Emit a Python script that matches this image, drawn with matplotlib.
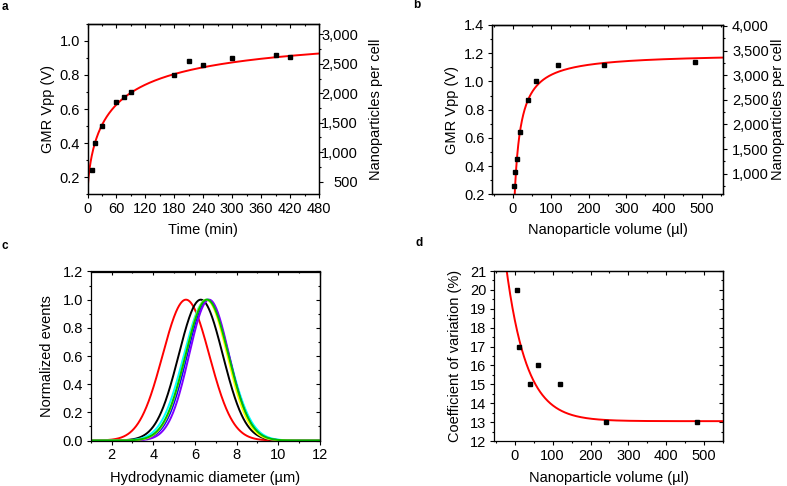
import numpy as np
import matplotlib
matplotlib.use("Agg")
import matplotlib.pyplot as plt
from matplotlib.ticker import MultipleLocator, StrMethodFormatter

plt.rcParams['font.family'] = ['Liberation Sans', 'DejaVu Sans']
plt.rcParams['font.size'] = 10.5
plt.rcParams['axes.linewidth'] = 0.9

# panel a: uptake over time
time_min = [10, 15, 30, 60, 75, 90, 180, 210, 240, 300, 390, 420]
gmr_time = [0.24, 0.40, 0.50, 0.64, 0.67, 0.70, 0.80, 0.88, 0.86, 0.90, 0.92, 0.905]
# fit params (Hill-type): base, amplitude, K, n
fit_a = (0.1, 1.0, 51.7, 0.7)

# panel b: uptake vs nanoparticle volume
vol_b = [2, 5, 10, 20, 40, 60, 120, 240, 480]
gmr_vol = [0.26, 0.36, 0.45, 0.64, 0.87, 1.00, 1.115, 1.115, 1.14]
# fit params (hyperbolic): amplitude, K, x0
fit_b = (1.2, 14.5, 2.0)

# panel c: size distributions (mean, sigma, colour)
dist_mean = [5.57, 6.28, 6.55, 6.62, 6.68, 6.55, 6.58]
dist_sigma = [1.12, 1.06, 1.08, 1.0, 0.96, 1.0, 1.03]
dist_color = ['#ff0000', '#000000', '#00ffff', '#0000ff', '#7f00ff', '#ffff00', '#00c000']

# panel d: coefficient of variation
vol_d = [5, 10, 40, 60, 120, 240, 480]
cv = [20, 17, 15, 16, 15, 13, 13]
# fit params (exponential decay): offset, amplitude, tau
fit_d = (13.05, 5.35, 54.0)

W, H = 787, 486
fig = plt.figure(figsize=(W / 100, H / 100), dpi=100)


def rect(l, r, t, b):
    return [l / W, 1 - b / H, (r - l) / W, (b - t) / H]


def ticklen(a):
    a.tick_params(which='major', length=3, width=0.8)
    a.tick_params(which='minor', length=1.6, width=0.8)


def style(ax, box, xlab_y, ylab_x, right_in=True):
    l, r, t, b = box
    ax.tick_params(which='both', direction='out', top=False, right=False, pad=2.5)
    ticklen(ax)
    top = ax.secondary_xaxis('top')
    top.xaxis.set_major_locator(ax.xaxis.get_major_locator())
    top.xaxis.set_minor_locator(ax.xaxis.get_minor_locator())
    top.tick_params(which='both', direction='in', labeltop=False)
    ticklen(top)
    if right_in:
        rt = ax.secondary_yaxis('right')
        rt.yaxis.set_major_locator(ax.yaxis.get_major_locator())
        rt.yaxis.set_minor_locator(ax.yaxis.get_minor_locator())
        rt.tick_params(which='both', direction='in', labelright=False)
        ticklen(rt)
    ax.xaxis.label.set_va('center')
    ax.yaxis.label.set_va('center')
    ax.xaxis.set_label_coords(0.5, (b - xlab_y) / (b - t))
    ax.yaxis.set_label_coords((ylab_x - l) / (r - l), 0.5)


def twin(ax, box, lo, hi, major, minor, label, lab_x, num_right):
    l, r, t_, b = box
    t = ax.twinx()
    t.set_ylim(lo, hi)
    t.yaxis.set_major_locator(MultipleLocator(major))
    t.yaxis.set_minor_locator(MultipleLocator(minor))
    t.yaxis.set_major_formatter(StrMethodFormatter('{x:,.0f}'))
    t.tick_params(which='both', direction='out')
    ticklen(t)
    # right-aligned numbers, as in the original
    t.tick_params(axis='y', pad=(num_right - r) * 0.72 - 3)
    for lbl in t.get_yticklabels():
        lbl.set_horizontalalignment('right')
    t.set_ylabel(label)
    t.yaxis.label.set_va('center')
    t.yaxis.set_label_coords((lab_x - l) / (r - l), 0.5)
    return t


# ---- a ----
box = (87.5, 319, 24, 194)
ax = fig.add_axes(rect(*box))
t = np.linspace(0, 480, 600)
b0, amp, K, n = fit_a
ax.plot(t, b0 + amp * t**n / (K**n + t**n), color='red', lw=1.4)
ax.plot(time_min, gmr_time, 's', color='black', ms=3.5)
ax.set_xlim(0, 480)
ax.set_ylim(0.1, 1.1)
ax.xaxis.set_major_locator(MultipleLocator(60))
ax.xaxis.set_minor_locator(MultipleLocator(30))
ax.yaxis.set_major_locator(MultipleLocator(0.2))
ax.yaxis.set_minor_locator(MultipleLocator(0.1))
ax.set_yticks([0.2, 0.4, 0.6, 0.8, 1.0])
ax.yaxis.set_major_formatter(StrMethodFormatter('{x:.1f}'))
ax.set_xlabel('Time (min)')
ax.set_ylabel('GMR Vpp (V)')
style(ax, box, 230, 48, right_in=False)
twin(ax, box, 290, 3175, 500, 250, 'Nanoparticles per cell', 376, 358)

# ---- b ----
box = (492, 723, 25, 194.5)
ax = fig.add_axes(rect(*box))
v = np.linspace(2.01, 555, 800)
amp, K, x0 = fit_b
ax.plot(v, amp * (v - x0) / (K + v - x0), color='red', lw=1.4)
ax.plot(vol_b, gmr_vol, 's', color='black', ms=3.5)
ax.set_xlim(-55, 555)
ax.set_ylim(0.2, 1.4)
ax.xaxis.set_major_locator(MultipleLocator(100))
ax.xaxis.set_minor_locator(MultipleLocator(50))
ax.yaxis.set_major_locator(MultipleLocator(0.2))
ax.yaxis.set_minor_locator(MultipleLocator(0.1))
ax.yaxis.set_major_formatter(StrMethodFormatter('{x:.1f}'))
ax.set_xlabel('Nanoparticle volume (µl)')
ax.set_ylabel('GMR Vpp (V)')
style(ax, box, 230, 452, right_in=False)
twin(ax, box, 578, 4020, 500, 250, 'Nanoparticles per cell', 778, 769)

# ---- c ----
box = (90.7, 320, 271.5, 440.5)
ax = fig.add_axes(rect(*box))
d = np.linspace(1, 12, 800)
for mu, sg, col in zip(dist_mean, dist_sigma, dist_color):
    ax.plot(d, np.exp(-0.5 * ((d - mu) / sg) ** 2), color=col, lw=1.4)
ax.set_xlim(1, 12)
ax.set_ylim(0, 1.2)
ax.xaxis.set_major_locator(MultipleLocator(2))
ax.xaxis.set_minor_locator(MultipleLocator(1))
ax.yaxis.set_major_locator(MultipleLocator(0.2))
ax.yaxis.set_minor_locator(MultipleLocator(0.1))
ax.yaxis.set_major_formatter(StrMethodFormatter('{x:.1f}'))
ax.set_xlabel('Hydrodynamic diameter (µm)')
ax.set_ylabel('Normalized events')
style(ax, box, 478, 47)

# ---- d ----
box = (494, 723, 271, 441)
ax = fig.add_axes(rect(*box))
v = np.linspace(-55, 555, 800)
c0, amp, tau = fit_d
ax.plot(v, c0 + amp * np.exp(-v / tau), color='red', lw=1.4)
ax.plot(vol_d, cv, 's', color='black', ms=3.5)
ax.set_xlim(-55, 550)
ax.set_ylim(12, 21)
ax.xaxis.set_major_locator(MultipleLocator(100))
ax.xaxis.set_minor_locator(MultipleLocator(50))
ax.yaxis.set_major_locator(MultipleLocator(1))
ax.yaxis.set_minor_locator(MultipleLocator(0.5))
ax.set_xlabel('Nanoparticle volume (µl)')
ax.set_ylabel('Coefficient of variation (%)')
style(ax, box, 478, 455)

for x, y, s in [(2, 7, 'a'), (413, 5, 'b'), (2, 246, 'c'), (416, 243, 'd')]:
    fig.text(x / W, 1 - y / H, s, fontsize=8.5, fontweight='bold', ha='left', va='center')

fig.savefig('out.png', dpi=100)
